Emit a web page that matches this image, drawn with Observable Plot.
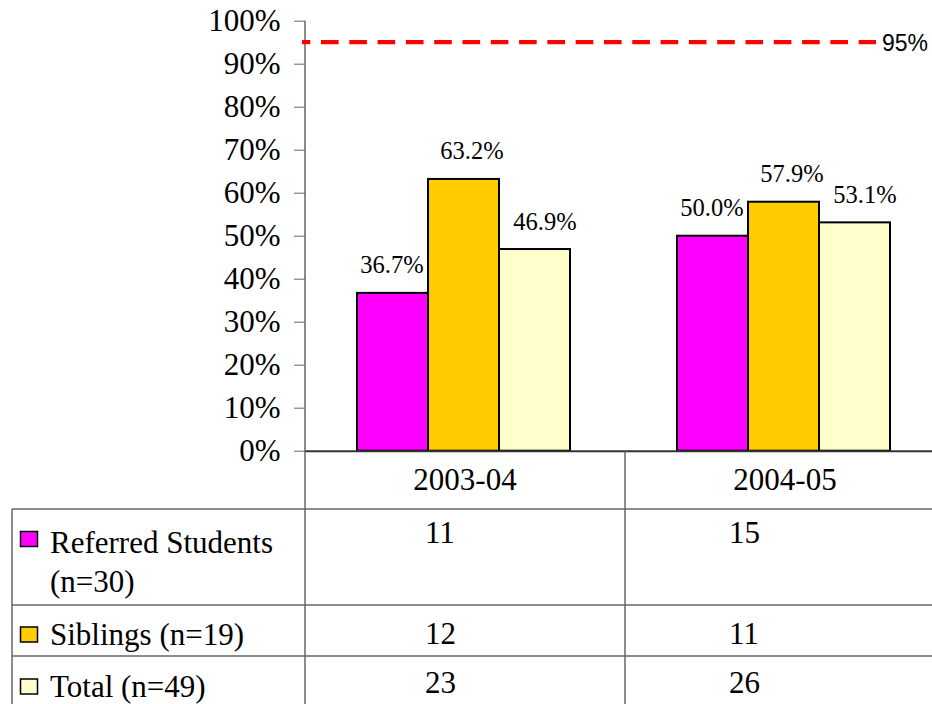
<!DOCTYPE html>
<html><head><meta charset="utf-8">
<script src="https://cdn.jsdelivr.net/npm/d3@7"></script>
<script src="https://cdn.jsdelivr.net/npm/@observablehq/plot@0.6"></script>
<style>html,body{margin:0;padding:0;background:#fff;} svg{display:block;}</style>
</head><body><div id="chart"></div>
<script>
// ---- data ----
const years = ["2003-04", "2004-05"];
const seriesKeys = ["Referred Students", "Siblings", "Total"];
const seriesLabels = [["Referred Students", "(n=30)"], ["Siblings (n=19)"], ["Total (n=49)"]];
const referredPct = [36.7, 50.0];
const siblingsPct = [63.2, 57.9];
const totalPct = [46.9, 53.1];
const referredCount = [11, 15];
const siblingsCount = [12, 11];
const totalCount = [23, 26];
const seriesColors = ["#FF00FF", "#FFCC00", "#FFFFCC"];
const yTicks = [0, 10, 20, 30, 40, 50, 60, 70, 80, 90, 100];
const targetValue = 95;
const targetLabel = "95%";

const pctBySeries = [referredPct, siblingsPct, totalPct];
const countBySeries = [referredCount, siblingsCount, totalCount];
const bars = years.flatMap((yr, i) => seriesKeys.map((s, j) => ({year: yr, series: s, value: pctBySeries[j][i]})));

const serif = "Liberation Serif, Times New Roman, serif";
const sans = "Liberation Sans, Arial, sans-serif";
const labelDx = [-1, 8, 10];

const chart = Plot.plot({
  width: 932, height: 704,
  marginLeft: 305, marginRight: 0, marginTop: 21, marginBottom: 253,
  style: {fontFamily: serif, fontSize: "31px", color: "#000", background: "#fff", overflow: "visible"},
  fx: {domain: years, padding: 0, axis: null, range: [305, 945]},
  x: {domain: seriesKeys, paddingInner: 0, paddingOuter: 0.75, align: 0.487, axis: null},
  y: {domain: [0, 100], range: [450.7, 20.7], ticks: yTicks, tickFormat: d => d + "%", tickSize: 11, tickPadding: 14, label: null},
  color: {domain: seriesKeys, range: seriesColors},
  marks: [
    Plot.barY(bars, {fx: "year", x: "series", y: "value", fill: "series", stroke: "#000", strokeWidth: 2}),
    Plot.ruleY([0], {stroke: "#333", strokeWidth: 2}),
    ...seriesKeys.map((s, j) => Plot.text(bars.filter(d => d.series === s), {
      fx: "year", x: "series", y: "value", text: d => d.value.toFixed(1) + "%",
      dy: -20, dx: labelDx[j], lineAnchor: "bottom", fontSize: 24.5, fill: "#000", fontFamily: serif
    }))
  ]
});
document.getElementById("chart").appendChild(chart);

// axis tick colour
chart.querySelectorAll('g[aria-label^="y-axis"] path, g[aria-label^="y-axis"] line').forEach(el => el.setAttribute("stroke", "#666"));
chart.querySelectorAll('g[aria-label^="y-axis"]').forEach(el => el.setAttribute("font-family", serif));

const svg = d3.select(chart);
const fx = chart.scale("fx");
const y = chart.scale("y");
const bw = fx.bandwidth;
const bandStart = yr => fx.apply(yr);
const xLeft = bandStart(years[0]);
const xRight = bandStart(years[years.length - 1]) + bw;
const y0 = y.apply(0);

const g = svg.append("g").attr("text-anchor", "start").attr("font-family", serif).attr("font-size", 31).attr("fill", "#000");
const lineColor = "#666";
// table rows (layout)
const headerBottom = 509, rowBottoms = [605, 656], tableBottom = 704, tableLeft = 12;
[headerBottom, ...rowBottoms].forEach(yy => {
  g.append("line").attr("x1", tableLeft).attr("x2", xRight).attr("y1", yy).attr("y2", yy)
    .attr("stroke", lineColor).attr("stroke-width", 1.5);
});
g.append("line").attr("x1", tableLeft).attr("x2", tableLeft).attr("y1", headerBottom).attr("y2", tableBottom).attr("stroke", lineColor).attr("stroke-width", 1.5);
g.append("line").attr("x1", xLeft).attr("x2", xLeft).attr("y1", y.apply(100)).attr("y2", tableBottom).attr("stroke", lineColor).attr("stroke-width", 1.5);
years.slice(1).forEach(yr => {
  g.append("line").attr("x1", bandStart(yr)).attr("x2", bandStart(yr)).attr("y1", y0).attr("y2", tableBottom).attr("stroke", lineColor).attr("stroke-width", 1.5);
});

// header
years.forEach(yr => {
  g.append("text").attr("x", bandStart(yr) + bw / 2).attr("y", 490).attr("text-anchor", "middle").text(yr);
});

// legend column + counts
const rowBaselines = [[553, 592], [645], [697]];
const countBaselines = [543, 644, 693];
const swatchTops = [531.5, 627, 679];
const countOffsets = [120, 104];
seriesKeys.forEach((s, j) => {
  g.append("rect").attr("x", 20.5).attr("y", swatchTops[j]).attr("width", 17).attr("height", 15)
    .attr("fill", seriesColors[j]).attr("stroke", "#000").attr("stroke-width", 1.5);
  seriesLabels[j].forEach((line, k) => {
    g.append("text").attr("x", 50).attr("y", rowBaselines[j][k]).attr("text-anchor", "start").text(line);
  });
  years.forEach((yr, i) => {
    g.append("text").attr("x", bandStart(yr) + countOffsets[i]).attr("y", countBaselines[j]).attr("text-anchor", "start")
      .text(countBySeries[j][i]);
  });
});

// target line
const yt = y.apply(targetValue);
g.append("line").attr("x1", 302).attr("x2", 876).attr("y1", yt).attr("y2", yt)
  .attr("stroke", "#FF0000").attr("stroke-width", 4.3).attr("stroke-dasharray", "17.6,10.7").attr("stroke-dashoffset", 9.3);
g.append("text").attr("x", 882).attr("y", yt + 9).attr("text-anchor", "start").attr("font-family", sans).attr("font-size", 23).text(targetLabel);
</script>
</body></html>
